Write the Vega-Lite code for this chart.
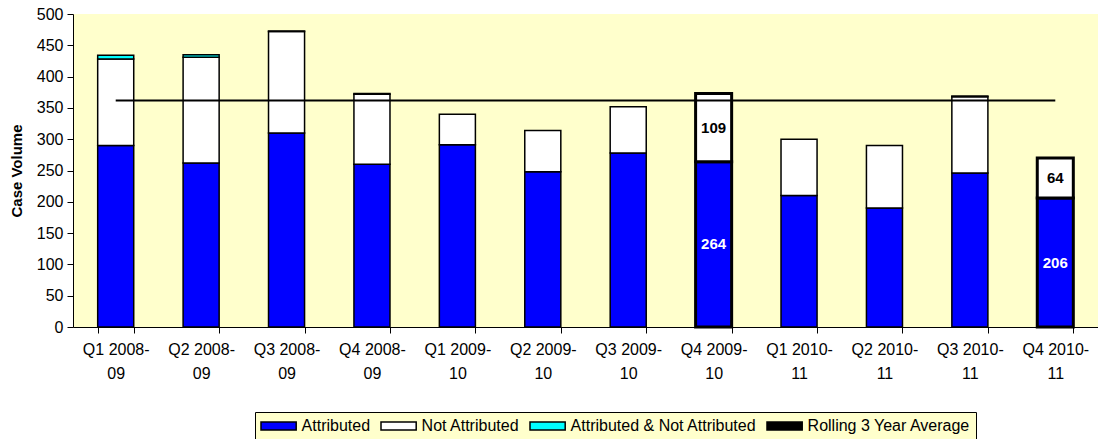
{
  "$schema": "https://vega.github.io/schema/vega-lite/v6.json",
  "width": 1025,
  "height": 313,
  "autosize": {"type": "none"},
  "padding": {"left": 73, "top": 14, "right": 0, "bottom": 112},
  "background": "white",
  "config": {
    "font": "Liberation Sans",
    "view": {"fill": "#FFFFCC", "stroke": null},
    "axis": {"grid": false, "domainColor": "#000", "tickColor": "#000", "labelColor": "#000", "labelFont": "Liberation Sans", "labelFontSize": 16, "titleFont": "Liberation Sans", "titleColor": "#000", "domainWidth": 1, "tickWidth": 1},
    "axisY": {"values": [0,50,100,150,200,250,300,350,400,450,500], "labelOverlap": false, "tickSize": 6, "labelPadding": 4, "titleFontSize": 15, "titleFontWeight": "bold", "titlePadding": 12}
  },
  "datasets": {
    "bars": [
      {"quarter": "Q1 2008-09", "series": "Attributed", "value": 290},
      {"quarter": "Q1 2008-09", "series": "Not Attributed", "value": 138},
      {"quarter": "Q1 2008-09", "series": "Attributed & Not Attributed", "value": 6},
      {"quarter": "Q2 2008-09", "series": "Attributed", "value": 262},
      {"quarter": "Q2 2008-09", "series": "Not Attributed", "value": 169},
      {"quarter": "Q2 2008-09", "series": "Attributed & Not Attributed", "value": 4},
      {"quarter": "Q3 2008-09", "series": "Attributed", "value": 310},
      {"quarter": "Q3 2008-09", "series": "Not Attributed", "value": 162},
      {"quarter": "Q3 2008-09", "series": "Attributed & Not Attributed", "value": 1},
      {"quarter": "Q4 2008-09", "series": "Attributed", "value": 260},
      {"quarter": "Q4 2008-09", "series": "Not Attributed", "value": 112},
      {"quarter": "Q4 2008-09", "series": "Attributed & Not Attributed", "value": 1},
      {"quarter": "Q1 2009-10", "series": "Attributed", "value": 291},
      {"quarter": "Q1 2009-10", "series": "Not Attributed", "value": 49},
      {"quarter": "Q2 2009-10", "series": "Attributed", "value": 248},
      {"quarter": "Q2 2009-10", "series": "Not Attributed", "value": 66},
      {"quarter": "Q3 2009-10", "series": "Attributed", "value": 278},
      {"quarter": "Q3 2009-10", "series": "Not Attributed", "value": 74},
      {"quarter": "Q4 2009-10", "series": "Attributed", "value": 264},
      {"quarter": "Q4 2009-10", "series": "Not Attributed", "value": 109},
      {"quarter": "Q1 2010-11", "series": "Attributed", "value": 210},
      {"quarter": "Q1 2010-11", "series": "Not Attributed", "value": 90},
      {"quarter": "Q2 2010-11", "series": "Attributed", "value": 190},
      {"quarter": "Q2 2010-11", "series": "Not Attributed", "value": 100},
      {"quarter": "Q3 2010-11", "series": "Attributed", "value": 246},
      {"quarter": "Q3 2010-11", "series": "Not Attributed", "value": 122},
      {"quarter": "Q3 2010-11", "series": "Attributed & Not Attributed", "value": 1},
      {"quarter": "Q4 2010-11", "series": "Attributed", "value": 206},
      {"quarter": "Q4 2010-11", "series": "Not Attributed", "value": 64}
    ],
    "avg": [
      {"quarter": "Q1 2008-09", "value": 362},
      {"quarter": "Q2 2008-09", "value": 362},
      {"quarter": "Q3 2008-09", "value": 362},
      {"quarter": "Q4 2008-09", "value": 362},
      {"quarter": "Q1 2009-10", "value": 362},
      {"quarter": "Q2 2009-10", "value": 362},
      {"quarter": "Q3 2009-10", "value": 362},
      {"quarter": "Q4 2009-10", "value": 362},
      {"quarter": "Q1 2010-11", "value": 362},
      {"quarter": "Q2 2010-11", "value": 362},
      {"quarter": "Q3 2010-11", "value": 362},
      {"quarter": "Q4 2010-11", "value": 362}
    ]
  },
  "layer": [
    {
      "data": {"name": "bars"},
      "transform": [
        {"calculate": "indexof(['Attributed','Not Attributed','Attributed & Not Attributed'], datum.series)", "as": "k"},
        {"stack": "value", "groupby": ["quarter"], "sort": [{"field": "k", "order": "ascending"}], "as": ["v0", "v1"]}
      ],
      "mark": {"type": "bar", "stroke": "#000"},
      "encoding": {
        "x": {
          "field": "quarter", "type": "nominal",
          "scale": {"domain": ["Q1 2008-09","Q2 2008-09","Q3 2008-09","Q4 2008-09","Q1 2009-10","Q2 2009-10","Q3 2009-10","Q4 2009-10","Q1 2010-11","Q2 2010-11","Q3 2010-11","Q4 2010-11"], "paddingInner": 0.578, "paddingOuter": 0.289},
          "axis": {"title": null, "labelAngle": 0, "tickBand": "extent", "tickSize": 6, "labelPadding": 8, "labelLineHeight": 24, "labelBaseline": "top", "labelExpr": "[slice(datum.label,0,8), slice(datum.label,8)]", "labelOverlap": false, "labelBound": false, "labelLimit": 200}
        },
        "y": {
          "field": "v0", "type": "quantitative",
          "scale": {"domain": [0, 500], "nice": false},
          "title": "Case Volume"
        },
        "y2": {"field": "v1"},
        "color": {
          "field": "series", "type": "nominal",
          "scale": {"domain": ["Attributed", "Not Attributed", "Attributed & Not Attributed", "Rolling 3 Year Average"], "range": ["#0000FF", "#FFFFFF", "#00FFFF", "#000000"]},
          "legend": {
            "title": null, "orient": "none", "legendX": 182, "legendY": 398, "direction": "horizontal",
            "fillColor": "#FFFFCC", "strokeColor": "#000", "padding": 5,
            "labelFont": "Liberation Sans", "labelFontSize": 16, "labelColor": "#000", "labelLimit": 400,
            "symbolType": "M-2.2,-0.5H2.2V0.5H-2.2Z",
            "symbolStrokeWidth": 1.5,
            "symbolSize": 256, "symbolOffset": 9.6, "labelOffset": 14, "columnPadding": 7,
            "encode": {
              "symbols": {
                "fill": {"value": {"expr": "datum.value === 'Rolling 3 Year Average' ? '#000000' : scale('color', datum.value)"}},
                "stroke": {"value": {"expr": "datum.value === 'Rolling 3 Year Average' ? '#FFFFCC' : '#000000'"}},
                "strokeWidth": {"value": {"expr": "datum.value === 'Rolling 3 Year Average' ? 6 : 1.5"}},
                "opacity": {"value": 1}
              }
            }
          }
        },
        "strokeWidth": {"condition": {"test": "datum.quarter === 'Q4 2009-10' || datum.quarter === 'Q4 2010-11'", "value": 3}, "value": 1.5}
      }
    },
    {
      "data": {"name": "avg"},
      "mark": {"type": "line", "color": "#000", "strokeWidth": 2},
      "encoding": {
        "x": {"field": "quarter", "type": "nominal"},
        "y": {"field": "value", "type": "quantitative", "title": "Case Volume"}
      }
    },
    {
      "data": {"name": "bars"},
      "transform": [
        {"filter": "(datum.quarter === 'Q4 2009-10' || datum.quarter === 'Q4 2010-11') && datum.series !== 'Attributed & Not Attributed'"},
        {"calculate": "indexof(['Attributed','Not Attributed','Attributed & Not Attributed'], datum.series)", "as": "k"},
        {"stack": "value", "groupby": ["quarter"], "sort": [{"field": "k", "order": "ascending"}], "as": ["v0", "v1"]},
        {"calculate": "(datum.v0 + datum.v1) / 2", "as": "mid"}
      ],
      "mark": {"type": "text", "font": "Liberation Sans", "fontWeight": "bold", "fontSize": 15, "baseline": "middle", "align": "center"},
      "encoding": {
        "x": {"field": "quarter", "type": "nominal"},
        "y": {"field": "mid", "type": "quantitative", "title": "Case Volume"},
        "text": {"field": "value", "type": "quantitative"},
        "color": {"condition": {"test": "datum.series === 'Attributed'", "value": "#FFFFFF"}, "value": "#000000"}
      }
    }
  ]
}
